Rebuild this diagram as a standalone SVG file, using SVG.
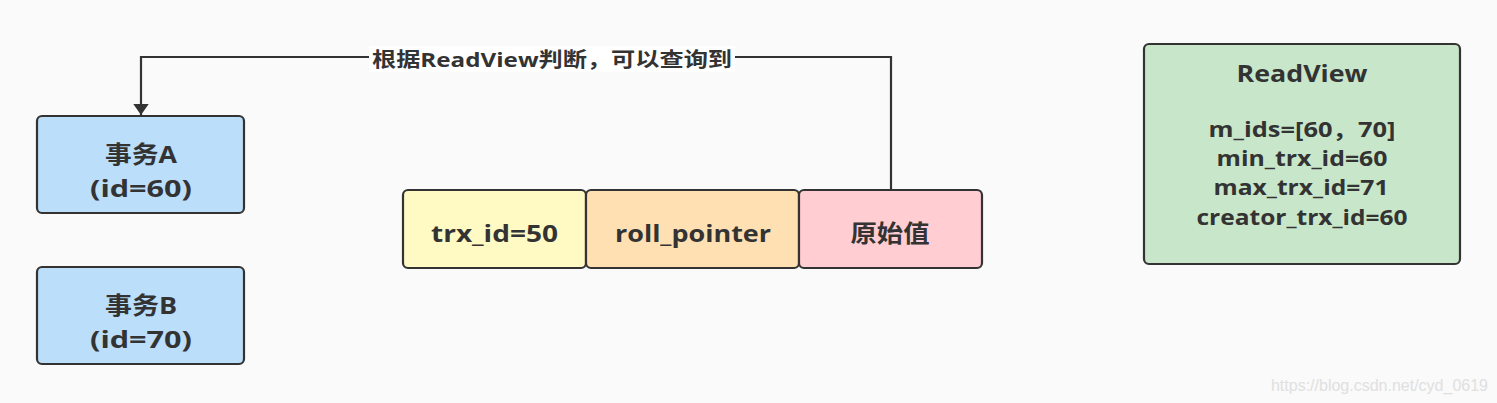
<svg xmlns="http://www.w3.org/2000/svg" width="1497" height="403" viewBox="0 0 1497 403">
<style>
.box{stroke:#333;stroke-width:2.2}
.t{font-family:"Open Sans","Noto Sans CJK SC",sans-serif;font-weight:bold;fill:#333;text-anchor:middle;dominant-baseline:central}
.big{font-size:24px}
.mid{font-size:21px}
.lbl{font-size:20px}
.conn{fill:none;stroke:#333;stroke-width:2.2}
</style>
<defs>
<marker id="arr" viewBox="0 0 10 14" refX="10" refY="7" markerWidth="9" markerHeight="7" markerUnits="strokeWidth" orient="auto">
<path d="M0,0 L10,7 L0,14 z" fill="#333"/>
</marker>
</defs>
<rect width="1497" height="403" fill="#fafafa"/>
<g id="connectors">
<path class="conn" d="M891,190 V57 H141 V115" marker-end="url(#arr)"/>
<rect x="369" y="46" width="366" height="26" fill="#ffffff"/>
<text class="t lbl" x="552" y="59" textLength="360" lengthAdjust="spacingAndGlyphs">根据ReadView判断，可以查询到</text>
</g>
<g id="txA">
<rect class="box" x="37" y="116" width="207" height="97" rx="5" fill="#bbdefb"/>
<text class="t big" x="141" y="153" textLength="72" lengthAdjust="spacingAndGlyphs">事务A</text>
<text class="t big" x="141" y="187" textLength="102" lengthAdjust="spacingAndGlyphs">(id=60)</text>
</g>
<g id="txB">
<rect class="box" x="37" y="267" width="207" height="97" rx="5" fill="#bbdefb"/>
<text class="t big" x="141" y="304" textLength="72" lengthAdjust="spacingAndGlyphs">事务B</text>
<text class="t big" x="141" y="338" textLength="102" lengthAdjust="spacingAndGlyphs">(id=70)</text>
</g>
<g id="trx">
<rect class="box" x="403" y="190" width="183" height="78" rx="5" fill="#fff9c4"/>
<text class="t big" x="494.5" y="232" textLength="127" lengthAdjust="spacingAndGlyphs">trx_id=50</text>
</g>
<g id="roll">
<rect class="box" x="586" y="190" width="213" height="78" rx="5" fill="#ffe0b2"/>
<text class="t big" x="693" y="232" textLength="156" lengthAdjust="spacingAndGlyphs">roll_pointer</text>
</g>
<g id="orig">
<rect class="box" x="799" y="190" width="183" height="78" rx="5" fill="#ffcdd2"/>
<text class="t big" x="890" y="232" textLength="79" lengthAdjust="spacingAndGlyphs">原始值</text>
</g>
<g id="readview">
<rect class="box" x="1144" y="44" width="316" height="220" rx="5" fill="#c8e6c9"/>
<text class="t big" x="1302" y="72" textLength="131" lengthAdjust="spacingAndGlyphs">ReadView</text>
<text class="t mid" x="1302" y="129" textLength="187" lengthAdjust="spacingAndGlyphs">m_ids=[60，70]</text>
<text class="t mid" x="1302" y="158" textLength="171" lengthAdjust="spacingAndGlyphs">min_trx_id=60</text>
<text class="t mid" x="1301" y="187" textLength="175" lengthAdjust="spacingAndGlyphs">max_trx_id=71</text>
<text class="t mid" x="1302" y="217" textLength="211" lengthAdjust="spacingAndGlyphs">creator_trx_id=60</text>
</g>
<text x="1488" y="385" font-family="Liberation Sans,Arial,sans-serif" font-size="16" fill="#e0e0e0" text-anchor="end" dominant-baseline="central">https://blog.csdn.net/cyd_0619</text>
</svg>
